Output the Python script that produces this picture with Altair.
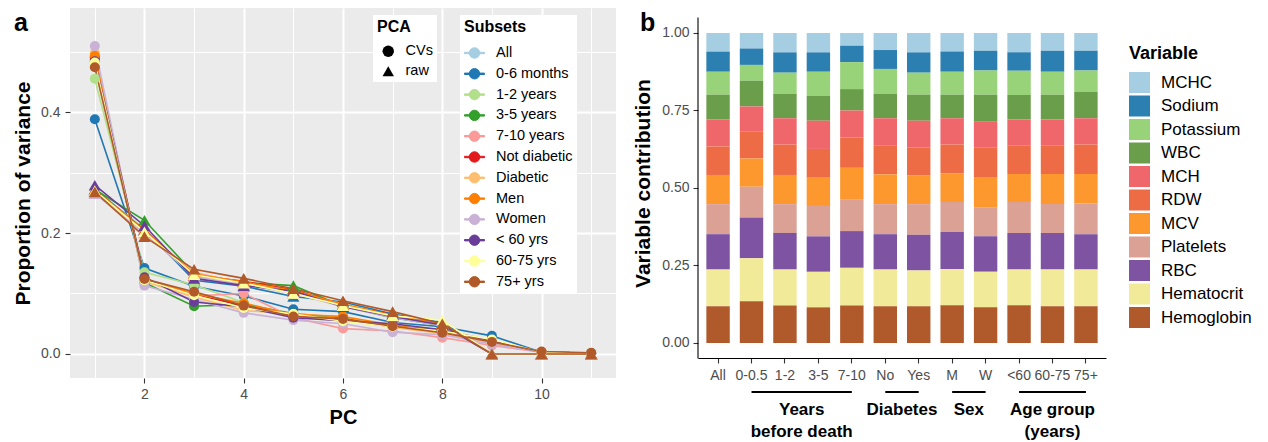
import altair as alt
import pandas as pd

FONT = "Liberation Sans"

# ---------------- Panel a data ----------------
PC_NUMBERS = [1, 2, 3, 4, 5, 6, 7, 8, 9, 10, 11]
SUBSETS = ["All", "0-6 months", "1-2 years", "3-5 years", "7-10 years", "Not diabetic",
           "Diabetic", "Men", "Women", "< 60 yrs", "60-75 yrs", "75+ yrs"]
SUBSET_COLORS = ["#A6CEE3", "#1F78B4", "#B2DF8A", "#33A02C", "#FB9A99", "#E31A1C",
                 "#FDBF6F", "#FF7F00", "#CAB2D6", "#6A3D9A", "#FFFF99", "#B15928"]
PCA_TYPES = ["CVs", "raw"]
PCA_SHAPES = ["circle", "triangle-up"]

cvs_all = [0.490, 0.125, 0.100, 0.080, 0.065, 0.058, 0.046, 0.036, 0.020, 0.003, 0.001]
cvs_0_6m = [0.388, 0.142, 0.112, 0.096, 0.074, 0.070, 0.052, 0.045, 0.030, 0.003, 0.001]
cvs_1_2y = [0.455, 0.135, 0.114, 0.085, 0.062, 0.055, 0.047, 0.035, 0.018, 0.003, 0.001]
cvs_3_5y = [0.487, 0.118, 0.079, 0.082, 0.067, 0.060, 0.045, 0.040, 0.020, 0.003, 0.001]
cvs_7_10y = [0.492, 0.120, 0.096, 0.100, 0.060, 0.042, 0.038, 0.027, 0.014, 0.003, 0.001]
cvs_not_diab = [0.490, 0.124, 0.098, 0.080, 0.064, 0.056, 0.045, 0.036, 0.020, 0.003, 0.001]
cvs_diab = [0.497, 0.120, 0.094, 0.072, 0.066, 0.062, 0.044, 0.034, 0.019, 0.003, 0.001]
cvs_men = [0.493, 0.124, 0.100, 0.084, 0.065, 0.062, 0.048, 0.037, 0.021, 0.003, 0.001]
cvs_women = [0.509, 0.113, 0.090, 0.068, 0.056, 0.050, 0.036, 0.032, 0.016, 0.003, 0.001]
cvs_lt60 = [0.484, 0.127, 0.086, 0.078, 0.060, 0.055, 0.050, 0.040, 0.022, 0.003, 0.001]
cvs_60_75 = [0.482, 0.122, 0.097, 0.076, 0.066, 0.054, 0.045, 0.038, 0.024, 0.003, 0.001]
cvs_75p = [0.474, 0.124, 0.103, 0.080, 0.062, 0.058, 0.046, 0.035, 0.020, 0.004, 0.002]

raw_all = [0.270, 0.205, 0.132, 0.118, 0.104, 0.082, 0.064, 0.050, 0.0, 0.0, 0.0]
raw_0_6m = [0.272, 0.206, 0.122, 0.112, 0.095, 0.086, 0.066, 0.052, 0.0, 0.0, 0.0]
raw_1_2y = [0.270, 0.207, 0.130, 0.117, 0.106, 0.080, 0.062, 0.048, 0.0, 0.0, 0.0]
raw_3_5y = [0.272, 0.221, 0.133, 0.118, 0.113, 0.079, 0.060, 0.047, 0.0, 0.0, 0.0]
raw_7_10y = [0.268, 0.203, 0.135, 0.116, 0.102, 0.080, 0.063, 0.048, 0.0, 0.0, 0.0]
raw_not_diab = [0.271, 0.205, 0.130, 0.120, 0.106, 0.081, 0.065, 0.049, 0.0, 0.0, 0.0]
raw_diab = [0.268, 0.200, 0.133, 0.118, 0.100, 0.083, 0.061, 0.050, 0.0, 0.0, 0.0]
raw_men = [0.271, 0.204, 0.132, 0.119, 0.105, 0.082, 0.064, 0.050, 0.0, 0.0, 0.0]
raw_women = [0.265, 0.200, 0.128, 0.115, 0.100, 0.078, 0.060, 0.047, 0.0, 0.0, 0.0]
raw_lt60 = [0.279, 0.212, 0.125, 0.113, 0.104, 0.078, 0.062, 0.048, 0.0, 0.0, 0.0]
raw_60_75 = [0.270, 0.202, 0.131, 0.117, 0.100, 0.080, 0.063, 0.056, 0.0, 0.0, 0.0]
raw_75p = [0.268, 0.194, 0.140, 0.125, 0.108, 0.088, 0.070, 0.050, 0.0, 0.0, 0.0]

CVS_SERIES = [cvs_all, cvs_0_6m, cvs_1_2y, cvs_3_5y, cvs_7_10y, cvs_not_diab,
              cvs_diab, cvs_men, cvs_women, cvs_lt60, cvs_60_75, cvs_75p]
RAW_SERIES = [raw_all, raw_0_6m, raw_1_2y, raw_3_5y, raw_7_10y, raw_not_diab,
              raw_diab, raw_men, raw_women, raw_lt60, raw_60_75, raw_75p]

# ---------------- Panel b data ----------------
BAR_CATEGORIES = ["All", "0-0.5", "1-2", "3-5", "7-10", "No", "Yes", "M", "W", "<60", "60-75", "75+"]
VARIABLES = ["MCHC", "Sodium", "Potassium", "WBC", "MCH", "RDW", "MCV",
             "Platelets", "RBC", "Hematocrit", "Hemoglobin"]
VARIABLE_COLORS = ["#A6CEE3", "#2C7FB1", "#98D279", "#6B9E4A", "#EF666B", "#EE6C45",
                   "#FD982E", "#DBA195", "#7D53A2", "#F0EA99", "#B0592A"]

mchc = [0.060, 0.050, 0.0625, 0.0625, 0.041, 0.055, 0.0625, 0.060, 0.057, 0.0625, 0.057, 0.057]
sodium = [0.065, 0.053, 0.0655, 0.0625, 0.053, 0.061, 0.0655, 0.065, 0.064, 0.0595, 0.068, 0.064]
potassium = [0.074, 0.051, 0.068, 0.078, 0.087, 0.080, 0.071, 0.074, 0.078, 0.078, 0.074, 0.069]
wbc = [0.080, 0.083, 0.079, 0.080, 0.069, 0.079, 0.084, 0.076, 0.087, 0.079, 0.080, 0.085]
mch = [0.087, 0.080, 0.085, 0.091, 0.087, 0.087, 0.086, 0.085, 0.084, 0.083, 0.083, 0.085]
rdw = [0.092, 0.088, 0.098, 0.093, 0.098, 0.094, 0.091, 0.093, 0.097, 0.093, 0.093, 0.095]
mcv = [0.094, 0.091, 0.094, 0.091, 0.103, 0.096, 0.092, 0.092, 0.0955, 0.090, 0.097, 0.095]
platelets = [0.097, 0.099, 0.093, 0.098, 0.101, 0.097, 0.099, 0.097, 0.0935, 0.100, 0.093, 0.099]
rbc = [0.114, 0.132, 0.118, 0.1145, 0.1185, 0.114, 0.115, 0.119, 0.1145, 0.118, 0.118, 0.114]
hematocrit = [0.1185, 0.138, 0.116, 0.1145, 0.1215, 0.1185, 0.1155, 0.117, 0.1145, 0.115, 0.1185, 0.1185]
hemoglobin = [0.1185, 0.135, 0.121, 0.115, 0.121, 0.1185, 0.1185, 0.122, 0.115, 0.122, 0.1185, 0.1185]

VARIABLE_SERIES = [mchc, sodium, potassium, wbc, mch, rdw, mcv, platelets, rbc, hematocrit, hemoglobin]

GROUP_LABELS = ["Years\nbefore death", "Diabetes", "Sex", "Age group\n(years)"]
GROUP_FIRST = ["0-0.5", "No", "M", "<60"]
GROUP_LAST = ["7-10", "Yes", "W", "75+"]
GROUP_ANCHOR = ["1-2", "No", "M", "60-75"]
GROUP_BETWEEN = [True, True, True, False]

# ---------------- Build tables ----------------
rows = []
for subset, cv, raw in zip(SUBSETS, CVS_SERIES, RAW_SERIES):
    for pca, vals in (("CVs", cv), ("raw", raw)):
        for pc, v in zip(PC_NUMBERS, vals):
            rows.append({"PC": pc, "Proportion": v, "Subset": subset, "PCA": pca})
left_df = pd.DataFrame(rows)

bar_rows = []
for vi, (var, vals) in enumerate(zip(VARIABLES, VARIABLE_SERIES)):
    for cat, v in zip(BAR_CATEGORIES, vals):
        bar_rows.append({"Category": cat, "Variable": var, "Contribution": v,
                         "StackIndex": len(VARIABLES) - vi})
bar_df = pd.DataFrame(bar_rows)

group_df = pd.DataFrame({"label": GROUP_LABELS, "first": GROUP_FIRST, "last": GROUP_LAST,
                         "anchor": GROUP_ANCHOR, "between": GROUP_BETWEEN})

# ---------------- Panel a ----------------
LEFT_W, LEFT_H = 546, 370
major_x = "datum.value % 2 === 0"
major_y = "round(datum.value * 10) % 2 === 0"

x_left = alt.X(
    "PC:Q",
    scale=alt.Scale(domain=[0.5, 11.5], nice=False, zero=False),
    axis=alt.Axis(values=PC_NUMBERS, labelExpr=f"{major_x} ? datum.label : ''",
                  grid=True, gridColor="white",
                  gridWidth={"condition": {"test": major_x, "value": 2}, "value": 1},
                  tickOpacity={"condition": {"test": major_x, "value": 1}, "value": 0},
                  tickColor="#333333", tickSize=5, tickWidth=1.1, domain=False,
                  labelColor="#4D4D4D", labelFontSize=14, labelPadding=4,
                  title="PC", titleFontSize=20, titleFontWeight="bold", titleColor="black",
                  titlePadding=6),
)
y_left = alt.Y(
    "Proportion:Q",
    scale=alt.Scale(domain=[-0.0397, 0.572], nice=False, zero=False),
    axis=alt.Axis(values=[0.0, 0.1, 0.2, 0.3, 0.4, 0.5], format=".1f",
                  labelExpr=f"{major_y} ? datum.label : ''",
                  grid=True, gridColor="white",
                  gridWidth={"condition": {"test": major_y, "value": 2}, "value": 1},
                  tickOpacity={"condition": {"test": major_y, "value": 1}, "value": 0},
                  tickColor="#333333", tickSize=5, tickWidth=1.1, domain=False,
                  labelColor="#4D4D4D", labelFontSize=14, labelPadding=5,
                  title="Proportion of variance", titleFontSize=21, titleFontWeight="bold",
                  titleColor="black", titlePadding=7),
)

LINE_DOT = ("M-1,-0.07L-0.46,-0.07L-0.46,0.07L-1,0.07Z "
            "M0.46,-0.07L1,-0.07L1,0.07L0.46,0.07Z "
            "M-0.52,0A0.52,0.52,0,1,1,0.52,0A0.52,0.52,0,1,1,-0.52,0Z")

subset_legend = alt.Legend(
    title="Subsets", orient="none", legendX=390, legendY=7, fillColor="white", padding=4,
    titleFontSize=16, titleFontWeight="bold", titleColor="black", titlePadding=7.5,
    labelFontSize=14.5, labelColor="black", labelOffset=11,
    symbolType=LINE_DOT, symbolSize=400, symbolStrokeWidth=1, symbolOpacity=1,
    rowPadding=2.8,
)
pca_legend = alt.Legend(
    title="PCA", orient="none", legendX=303, legendY=7, fillColor="white", padding=4,
    titleFontSize=16, titleFontWeight="bold", titleColor="black", titlePadding=9,
    labelFontSize=14.5, labelColor="black", labelOffset=10, symbolOffset=4,
    symbolSize=130, symbolStrokeWidth=0, symbolFillColor="black", symbolOpacity=1,
    rowPadding=5,
)

color_left = alt.Color("Subset:N", scale=alt.Scale(domain=SUBSETS, range=SUBSET_COLORS),
                       legend=subset_legend)

lines = alt.Chart(left_df).mark_line(strokeWidth=1.6).encode(
    x=x_left, y=y_left, color=color_left, detail="PCA:N"
)
points = alt.Chart(left_df).mark_point(filled=True, opacity=1).encode(
    x=x_left, y=y_left, color=color_left,
    shape=alt.Shape("PCA:N", scale=alt.Scale(domain=PCA_TYPES, range=PCA_SHAPES),
                    legend=pca_legend),
    size=alt.condition("datum.PCA === 'raw'", alt.value(150), alt.value(100)),
)
label_a = alt.Chart(pd.DataFrame({"t": ["a"]})).mark_text(
    font=FONT, fontSize=25, fontWeight="bold", align="left", baseline="alphabetic", color="black"
).encode(text="t:N", x=alt.value(-56), y=alt.value(22.7))

left = alt.layer(lines, points, label_a).properties(
    width=LEFT_W, height=LEFT_H, view=alt.ViewBackground(fill="#EBEBEB", stroke=None)
)

# ---------------- Panel b ----------------
RIGHT_W, RIGHT_H = 408, 350
STEP = RIGHT_W / (len(BAR_CATEGORIES) - 0.3 + 0.5)
x_scale_r = alt.Scale(domain=BAR_CATEGORIES, paddingInner=0.3, paddingOuter=0.25)
x_axis_r = alt.Axis(title=None, labelAngle=0, labelFontSize=14, labelColor="#4D4D4D",
                    tickColor="#333333", tickSize=5, tickWidth=1.1, domainColor="black",
                    domainWidth=1.1, labelPadding=5, grid=False)
y_scale_r = alt.Scale(domain=[-0.0484, 1.0806], nice=False, zero=False)

bars = alt.Chart(bar_df).mark_bar().encode(
    x=alt.X("Category:N", scale=x_scale_r, axis=x_axis_r, sort=BAR_CATEGORIES),
    y=alt.Y("Contribution:Q", stack="zero", scale=y_scale_r,
            axis=alt.Axis(values=[0, 0.25, 0.5, 0.75, 1.0], format=".2f", domain=False,
                          grid=False, tickColor="#333333", tickSize=5, tickWidth=1.1,
                          labelColor="#4D4D4D", labelFontSize=14, labelPadding=4,
                          title="Variable contribution", titleFontSize=21,
                          titleFontWeight="bold", titleColor="black", titlePadding=8.6)),
    color=alt.Color("Variable:N", scale=alt.Scale(domain=VARIABLES, range=VARIABLE_COLORS),
                    legend=alt.Legend(title="Variable", orient="none", legendX=431, legendY=37,
                                      padding=0, titleFontSize=18, titleFontWeight="bold",
                                      titleColor="black", titlePadding=9, labelFontSize=17,
                                      labelColor="black", labelOffset=11, symbolType="square",
                                      symbolSize=441, symbolStrokeWidth=0, symbolOpacity=1,
                                      rowPadding=2.5)),
    order=alt.Order("StackIndex:Q", sort="ascending"),
)

y_axis_line = alt.Chart(pd.DataFrame({"k": [0]})).mark_rule(color="black", strokeWidth=1.1).encode(
    x=alt.value(0), y=alt.Y(datum=-0.05, scale=y_scale_r), y2=alt.Y2(datum=1.05)
)

brackets = alt.Chart(group_df).mark_rule(color="black", strokeWidth=2.2).encode(
    x=alt.X("first:N", scale=x_scale_r, axis=x_axis_r),
    x2="last:N",
    y=alt.value(384),
)
text_style = dict(font=FONT, fontSize=17, fontWeight="bold", align="center",
                  baseline="alphabetic", lineBreak="\n", lineHeight=21.5, color="black")
group_text_mid = alt.Chart(group_df).transform_filter("datum.between").mark_text(
    dx=STEP / 2, **text_style
).encode(x=alt.X("anchor:N", scale=x_scale_r, axis=x_axis_r), y=alt.value(407), text="label:N")
group_text_on = alt.Chart(group_df).transform_filter("!datum.between").mark_text(
    **text_style
).encode(x=alt.X("anchor:N", scale=x_scale_r, axis=x_axis_r), y=alt.value(407), text="label:N")

label_b = alt.Chart(pd.DataFrame({"t": ["b"]})).mark_text(
    font=FONT, fontSize=25, fontWeight="bold", align="left", baseline="alphabetic", color="black"
).encode(text="t:N", x=alt.value(-58), y=alt.value(22.7))

right = alt.layer(bars, y_axis_line, brackets, group_text_mid, group_text_on, label_b).properties(
    width=RIGHT_W, height=RIGHT_H
)

chart = (
    alt.hconcat(left, right, spacing=16)
    .resolve_scale(color="independent", shape="independent")
    .resolve_legend(color="independent", shape="independent")
    .properties(padding={"left": 4, "top": 0, "right": 0, "bottom": 0})
    .configure_view(stroke=None)
    .configure_axis(labelFont=FONT, titleFont=FONT)
    .configure_legend(labelFont=FONT, titleFont=FONT)
)

chart.save("out.html", embed_options={"renderer": "svg", "actions": False})
